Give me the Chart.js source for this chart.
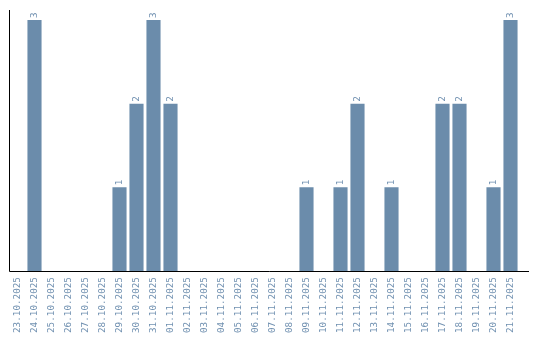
<!DOCTYPE html>
<html><head><meta charset="utf-8">
<script src="https://cdn.jsdelivr.net/npm/chart.js@4/dist/chart.umd.min.js"></script>
<style>html,body{margin:0;padding:0;background:#fff}#wrap{width:540px;height:340px}</style>
</head><body><div id="wrap"><canvas id="c"></canvas></div>
<script>
const categories = ["23.10.2025","24.10.2025","25.10.2025","26.10.2025","27.10.2025","28.10.2025","29.10.2025","30.10.2025","31.10.2025","01.11.2025","02.11.2025","03.11.2025","04.11.2025","05.11.2025","06.11.2025","07.11.2025","08.11.2025","09.11.2025","10.11.2025","11.11.2025","12.11.2025","13.11.2025","14.11.2025","15.11.2025","16.11.2025","17.11.2025","18.11.2025","19.11.2025","20.11.2025","21.11.2025"];
const counts = [0,3,0,0,0,0,1,2,3,2,0,0,0,0,0,0,0,1,0,1,2,0,1,0,0,2,2,0,1,3];
const barColor = '#6b8cab';
const textColor = '#7191b1';
const monoFont = 'DejaVu Sans Mono';

const valueLabels = {
  id: 'valueLabels',
  afterDatasetsDraw(chart) {
    const ctx = chart.ctx;
    const meta = chart.getDatasetMeta(0);
    ctx.save();
    ctx.fillStyle = textColor;
    ctx.font = '9.3px "' + monoFont + '"';
    ctx.textAlign = 'left';
    ctx.textBaseline = 'middle';
    meta.data.forEach((bar, i) => {
      const v = counts[i];
      if (!v) return;
      ctx.save();
      ctx.translate(bar.x, bar.y - 2);
      ctx.rotate(-Math.PI / 2);
      ctx.fillText(String(v), 0, 0);
      ctx.restore();
    });
    ctx.restore();
  }
};
const axisLines = {
  id: 'axisLines',
  afterDraw(chart) {
    const {ctx, chartArea: a} = chart;
    ctx.save();
    ctx.strokeStyle = '#000';
    ctx.lineWidth = 1;
    ctx.beginPath();
    ctx.moveTo(a.left + 0.5, a.top);
    ctx.lineTo(a.left + 0.5, Math.round(a.bottom) + 0.5);
    ctx.lineTo(a.right + 10, Math.round(a.bottom) + 0.5);
    ctx.stroke();
    ctx.restore();
  }
};

new Chart(document.getElementById('c'), {
  type: 'bar',
  data: { labels: categories, datasets: [{ data: counts, backgroundColor: barColor, borderWidth: 0, barPercentage: 0.83, categoryPercentage: 1 }] },
  options: {
    responsive: true, maintainAspectRatio: false, animation: false,
    layout: { padding: { left: 9, right: 21, top: 10, bottom: 1 } },
    plugins: { legend: { display: false }, tooltip: { enabled: false } },
    scales: {
      x: {
        grid: { display: false, drawTicks: false },
        border: { display: false },
        ticks: { color: textColor, font: { family: monoFont, size: 9.3 }, maxRotation: 90, minRotation: 90, padding: 6, autoSkip: false }
      },
      y: {
        min: 0, max: 3.12,
        grid: { display: false, drawTicks: false },
        border: { display: false },
        ticks: { display: false }
      }
    }
  },
  plugins: [valueLabels, axisLines]
});
</script></body></html>
